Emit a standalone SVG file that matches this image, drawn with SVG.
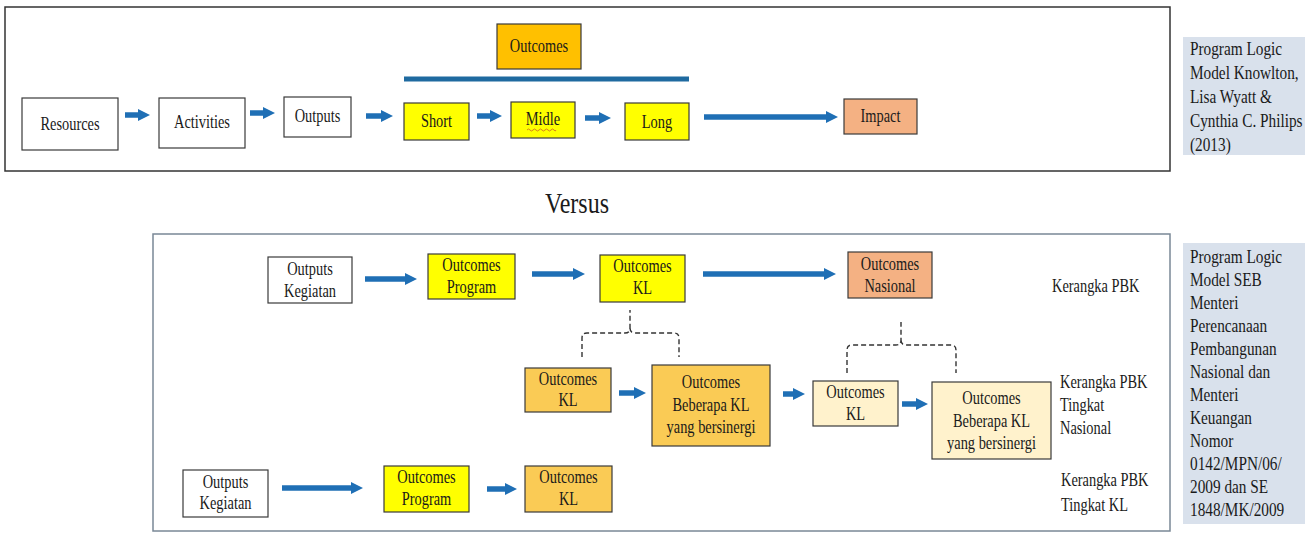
<svg xmlns="http://www.w3.org/2000/svg" width="1308" height="534" viewBox="0 0 1308 534">
  <defs>
    <style>
      .frame { fill: #ffffff; stroke: #333333; stroke-width: 1.5; }
      .frame2 { fill: #ffffff; stroke: #7a8896; stroke-width: 1.5; }
      .box { stroke: #3a3a3a; stroke-width: 1.2; }
      .white { fill: #ffffff; }
      .yellow { fill: #ffff00; }
      .gold { fill: #ffc000; }
      .amber { fill: #facb55; }
      .cream { fill: #fff2cc; }
      .salmon { fill: #f4b183; }
      .note { fill: #d9e1ec; }
      text { font-family: "Liberation Serif", "DejaVu Serif", serif; font-size: 18px; fill: #1a1a1a; }
      .c { text-anchor: middle; }
      .big { font-size: 30px; }
      .flow { stroke: #1f6fb5; stroke-width: 5.5; fill: none; marker-end: url(#head); }
      .bar { stroke: #1f6aa0; stroke-width: 5; }
      .brace { stroke: #333333; stroke-width: 1.4; fill: none; stroke-dasharray: 5 3; }
    </style>
    <marker id="head" viewBox="0 0 10 10" refX="5" refY="5" markerWidth="2.2" markerHeight="2.6" orient="auto" markerUnits="strokeWidth">
      <path d="M0,0 L10,5 L0,10 z" fill="#1f6fb5"/>
    </marker>
  </defs>

  <!-- outer frames -->
  <rect class="frame" x="5" y="7" width="1165" height="164"/>
  <rect class="frame2" x="153" y="234" width="1017" height="297"/>

  <!-- side notes -->
  <g id="note-knowlton">
    <rect class="note" x="1183" y="37" width="122" height="118"/>
    <text transform="matrix(0.85 0 0 1 1190 0)">
      <tspan x="0" y="55">Program Logic</tspan>
      <tspan x="0" y="79">Model Knowlton,</tspan>
      <tspan x="0" y="103">Lisa Wyatt &amp;</tspan>
      <tspan x="0" y="127">Cynthia C. Philips</tspan>
      <tspan x="0" y="151">(2013)</tspan>
    </text>
  </g>
  <g id="note-seb">
    <rect class="note" x="1183" y="243" width="122" height="281"/>
    <text transform="matrix(0.85 0 0 1 1190 0)">
      <tspan x="0" y="263">Program Logic</tspan>
      <tspan x="0" y="286">Model SEB</tspan>
      <tspan x="0" y="309">Menteri</tspan>
      <tspan x="0" y="332">Perencanaan</tspan>
      <tspan x="0" y="355">Pembangunan</tspan>
      <tspan x="0" y="378">Nasional dan</tspan>
      <tspan x="0" y="401">Menteri</tspan>
      <tspan x="0" y="424">Keuangan</tspan>
      <tspan x="0" y="447">Nomor</tspan>
      <tspan x="0" y="470">0142/MPN/06/</tspan>
      <tspan x="0" y="493">2009 dan SE</tspan>
      <tspan x="0" y="516">1848/MK/2009</tspan>
    </text>
  </g>

  <text id="versus" class="big c" transform="matrix(0.8 0 0 1 577 0)" x="0" y="213">Versus</text>

  <!-- top model -->
  <g id="outcomes-head">
    <rect class="box gold" x="497" y="24" width="84" height="45"/>
    <text class="c" transform="matrix(0.8 0 0 1 539 0)" x="0" y="52">Outcomes</text>
  </g>
  <line class="bar" x1="404" y1="79" x2="689" y2="79"/>
  <g id="resources">
    <rect class="box white" x="22" y="98" width="96" height="52"/>
    <text class="c" transform="matrix(0.8 0 0 1 70 0)" x="0" y="130">Resources</text>
  </g>
  <g id="activities">
    <rect class="box white" x="159" y="98" width="86" height="50"/>
    <text class="c" transform="matrix(0.8 0 0 1 202 0)" x="0" y="128">Activities</text>
  </g>
  <g id="outputs">
    <rect class="box white" x="284" y="97" width="67" height="40"/>
    <text class="c" transform="matrix(0.8 0 0 1 317.5 0)" x="0" y="122">Outputs</text>
  </g>
  <g id="short">
    <rect class="box yellow" x="404" y="103" width="65" height="37"/>
    <text class="c" transform="matrix(0.8 0 0 1 436.5 0)" x="0" y="127">Short</text>
  </g>
  <g id="midle">
    <rect class="box yellow" x="511" y="102" width="64" height="36"/>
    <text class="c" transform="matrix(0.8 0 0 1 543 0)" x="0" y="125">Midle</text>
    <path d="M527,130 q1.5,-2 3,0 t3,0 t3,0 t3,0 t3,0 t3,0 t3,0 t3,0 t3,0 t2,0" stroke="#d07020" stroke-width="0.9" fill="none"/>
  </g>
  <g id="long">
    <rect class="box yellow" x="625" y="103" width="64" height="37"/>
    <text class="c" transform="matrix(0.8 0 0 1 657 0)" x="0" y="128">Long</text>
  </g>
  <g id="impact">
    <rect class="box salmon" x="844" y="99" width="73" height="35"/>
    <text class="c" transform="matrix(0.8 0 0 1 880.5 0)" x="0" y="122">Impact</text>
  </g>

  <!-- bottom model, row 1 -->
  <g id="outputs-kegiatan-1">
    <rect class="box white" x="268" y="257" width="84" height="46"/>
    <text class="c" transform="matrix(0.8 0 0 1 310 0)"><tspan x="0" y="275">Outputs</tspan><tspan x="0" y="297">Kegiatan</tspan></text>
  </g>
  <g id="outcomes-program-1">
    <rect class="box yellow" x="428" y="254" width="87" height="45"/>
    <text class="c" transform="matrix(0.8 0 0 1 471.5 0)"><tspan x="0" y="271">Outcomes</tspan><tspan x="0" y="293">Program</tspan></text>
  </g>
  <g id="outcomes-kl-1">
    <rect class="box yellow" x="600" y="255" width="85" height="47"/>
    <text class="c" transform="matrix(0.8 0 0 1 642.5 0)"><tspan x="0" y="272">Outcomes</tspan><tspan x="0" y="294">KL</tspan></text>
  </g>
  <g id="outcomes-nasional">
    <rect class="box salmon" x="848" y="252" width="84" height="46"/>
    <text class="c" transform="matrix(0.8 0 0 1 890 0)"><tspan x="0" y="270">Outcomes</tspan><tspan x="0" y="292">Nasional</tspan></text>
  </g>
  <text transform="matrix(0.8 0 0 1 1052 0)" x="0" y="292">Kerangka PBK</text>

  <!-- row 2 -->
  <g id="outcomes-kl-2">
    <rect class="box amber" x="525" y="368" width="86" height="44"/>
    <text class="c" transform="matrix(0.8 0 0 1 568 0)"><tspan x="0" y="385">Outcomes</tspan><tspan x="0" y="406">KL</tspan></text>
  </g>
  <g id="outcomes-sinergi-1">
    <rect class="box amber" x="652" y="365" width="118" height="81"/>
    <text class="c" transform="matrix(0.8 0 0 1 711 0)"><tspan x="0" y="388">Outcomes</tspan><tspan x="0" y="411">Beberapa KL</tspan><tspan x="0" y="433">yang bersinergi</tspan></text>
  </g>
  <g id="outcomes-kl-3">
    <rect class="box cream" x="813" y="381" width="85" height="45"/>
    <text class="c" transform="matrix(0.8 0 0 1 855.5 0)"><tspan x="0" y="398">Outcomes</tspan><tspan x="0" y="420">KL</tspan></text>
  </g>
  <g id="outcomes-sinergi-2">
    <rect class="box cream" x="932" y="382" width="119" height="77"/>
    <text class="c" transform="matrix(0.8 0 0 1 991.5 0)"><tspan x="0" y="404">Outcomes</tspan><tspan x="0" y="427">Beberapa KL</tspan><tspan x="0" y="449">yang bersinergi</tspan></text>
  </g>
  <text transform="matrix(0.8 0 0 1 1060 0)"><tspan x="0" y="388">Kerangka PBK</tspan><tspan x="0" y="411">Tingkat</tspan><tspan x="0" y="434">Nasional</tspan></text>

  <!-- row 3 -->
  <g id="outputs-kegiatan-2">
    <rect class="box white" x="183" y="470" width="85" height="47"/>
    <text class="c" transform="matrix(0.8 0 0 1 225.5 0)"><tspan x="0" y="488">Outputs</tspan><tspan x="0" y="509">Kegiatan</tspan></text>
  </g>
  <g id="outcomes-program-2">
    <rect class="box yellow" x="384" y="466" width="85" height="46"/>
    <text class="c" transform="matrix(0.8 0 0 1 426.5 0)"><tspan x="0" y="483">Outcomes</tspan><tspan x="0" y="505">Program</tspan></text>
  </g>
  <g id="outcomes-kl-4">
    <rect class="box amber" x="525" y="466" width="87" height="46"/>
    <text class="c" transform="matrix(0.8 0 0 1 568.5 0)"><tspan x="0" y="483">Outcomes</tspan><tspan x="0" y="505">KL</tspan></text>
  </g>
  <text transform="matrix(0.8 0 0 1 1061 0)"><tspan x="0" y="486">Kerangka PBK</tspan><tspan x="0" y="511">Tingkat  KL</tspan></text>

  <!-- connectors -->
  <g id="connectors">
    <line class="flow" x1="125" y1="115" x2="144" y2="115"/>
    <line class="flow" x1="250" y1="113" x2="269" y2="113"/>
    <line class="flow" x1="366" y1="116" x2="387" y2="116"/>
    <line class="flow" x1="477" y1="116" x2="496" y2="116"/>
    <line class="flow" x1="585" y1="118" x2="605" y2="118"/>
    <line class="flow" x1="704" y1="117" x2="832" y2="117"/>

    <line class="flow" x1="365" y1="279" x2="411" y2="279"/>
    <line class="flow" x1="532" y1="274" x2="579" y2="274"/>
    <line class="flow" x1="703" y1="274" x2="830" y2="274"/>

    <line class="flow" x1="619" y1="393" x2="640" y2="393"/>
    <line class="flow" x1="783" y1="394" x2="799" y2="394"/>
    <line class="flow" x1="902" y1="404" x2="922" y2="404"/>

    <line class="flow" x1="282" y1="488" x2="357" y2="488"/>
    <line class="flow" x1="487" y1="489" x2="511" y2="489"/>

    <path class="brace" d="M582,357 L582,338 Q582,333 587,333 L625,333 Q630,333 630,328 L630,310 M630,328 Q630,333 635,333 L674,333 Q679,333 679,338 L679,357"/>
    <path class="brace" d="M847,373 L847,350 Q847,345 852,345 L896,345 Q901,345 901,340 L901,322 M901,340 Q901,345 906,345 L951,345 Q956,345 956,350 L956,373"/>
  </g>
</svg>
